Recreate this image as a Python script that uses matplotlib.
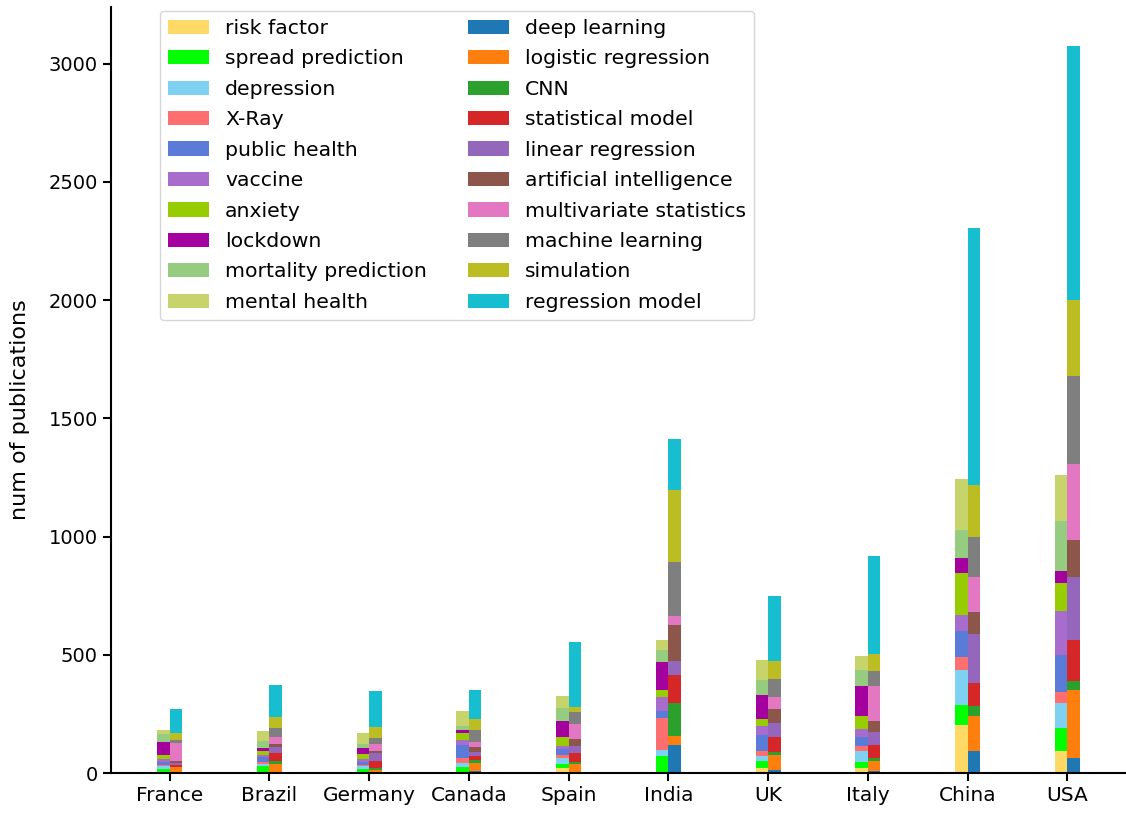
import numpy as np
import matplotlib
matplotlib.use('Agg')
import matplotlib.pyplot as plt

countries = ['France', 'Brazil', 'Germany', 'Canada', 'Spain', 'India', 'UK', 'Italy', 'China', 'USA']

# topic keywords (left bar of each pair), bottom to top
topic_names = ['risk factor', 'spread prediction', 'depression', 'X-Ray', 'public health',
               'vaccine', 'anxiety', 'lockdown', 'mortality prediction', 'mental health']
risk_factor = [4, 6, 4, 2, 21, 3, 21, 21, 204, 94]
spread_prediction = [13, 22, 14, 22, 18, 71, 28, 25, 85, 97]
depression = [11, 10, 12, 20, 25, 25, 25, 45, 148, 107]
x_ray = [6, 7, 5, 20, 14, 134, 17, 23, 53, 46]
public_health = [13, 22, 11, 55, 24, 28, 68, 38, 111, 153]
vaccine = [11, 11, 12, 19, 14, 59, 41, 32, 66, 189]
anxiety = [17, 17, 22, 30, 38, 31, 30, 56, 180, 117]
lockdown = [56, 11, 25, 12, 68, 120, 99, 130, 63, 51]
mortality_prediction = [35, 30, 16, 18, 54, 49, 66, 66, 116, 214]
mental_health = [17, 42, 47, 66, 48, 44, 85, 59, 216, 191]

# methods (right bar of each pair), bottom to top
method_names = ['deep learning', 'logistic regression', 'CNN', 'statistical model', 'linear regression',
                'artificial intelligence', 'multivariate statistics', 'machine learning',
                'simulation', 'regression model']
deep_learning = [2, 2, 2, 8, 1, 120, 14, 8, 94, 65]
logistic_regression = [22, 37, 10, 35, 39, 35, 61, 41, 145, 284]
cnn = [3, 10, 11, 13, 7, 142, 14, 14, 43, 39]
statistical_model = [7, 35, 28, 14, 38, 116, 63, 54, 97, 174]
linear_regression = [10, 28, 32, 18, 30, 59, 61, 56, 209, 269]
artificial_intelligence = [5, 11, 12, 24, 27, 155, 58, 49, 94, 156]
multivariate_statistics = [80, 31, 27, 21, 65, 39, 49, 144, 148, 318]
machine_learning = [10, 35, 26, 47, 52, 228, 76, 65, 167, 376]
simulation = [30, 49, 47, 47, 21, 305, 76, 73, 221, 321]
regression_model = [100, 134, 152, 125, 275, 214, 278, 415, 1089, 1075]

topics = [risk_factor, spread_prediction, depression, x_ray, public_health,
          vaccine, anxiety, lockdown, mortality_prediction, mental_health]
methods = [deep_learning, logistic_regression, cnn, statistical_model, linear_regression,
           artificial_intelligence, multivariate_statistics, machine_learning,
           simulation, regression_model]

topic_colors = ['#ffd966', '#00ff00', '#7fd1f2', '#ff6f6f', '#5a7bd8',
                '#a86ccc', '#96cc00', '#a4009d', '#96cc80', '#c6d46b']
method_colors = ['#1f77b4', '#ff7f0e', '#2ca02c', '#d62728', '#9467bd',
                 '#8c564b', '#e377c2', '#7f7f7f', '#bcbd22', '#17becf']

fig = plt.figure(figsize=(11.26, 8.21), dpi=100)
ax = fig.add_axes([111 / 1126, 48 / 821, 1015 / 1126, 766 / 821])

x = np.arange(len(countries))
w = 0.125

bottom = np.zeros(len(countries))
handles_t = []
for vals, name, col in zip(topics, topic_names, topic_colors):
    b = ax.bar(x - w / 2, vals, w, bottom=bottom, color=col, label=name)
    handles_t.append(b)
    bottom += np.array(vals)

bottom = np.zeros(len(countries))
handles_m = []
for vals, name, col in zip(methods, method_names, method_colors):
    b = ax.bar(x + w / 2, vals, w, bottom=bottom, color=col, label=name)
    handles_m.append(b)
    bottom += np.array(vals)

ax.set_xticks(x)
ax.set_xticklabels(countries, fontsize=14.5)
ax.tick_params(axis='y', labelsize=14)
ax.tick_params(length=6, width=1.5)
ax.set_ylim(0, 3240)
ax.set_ylabel('num of publications', fontsize=16)
ax.yaxis.set_label_coords(-0.08, 0.474)

for s in ['top', 'right']:
    ax.spines[s].set_visible(False)
for s in ['left', 'bottom']:
    ax.spines[s].set_linewidth(1.5)

ax.legend(handles_t + handles_m, topic_names + method_names, ncol=2, fontsize=14.7,
          loc='upper left', bbox_to_anchor=(0.048, 0.995), borderaxespad=0,
          labelspacing=0.56)

fig.savefig('out.png')
